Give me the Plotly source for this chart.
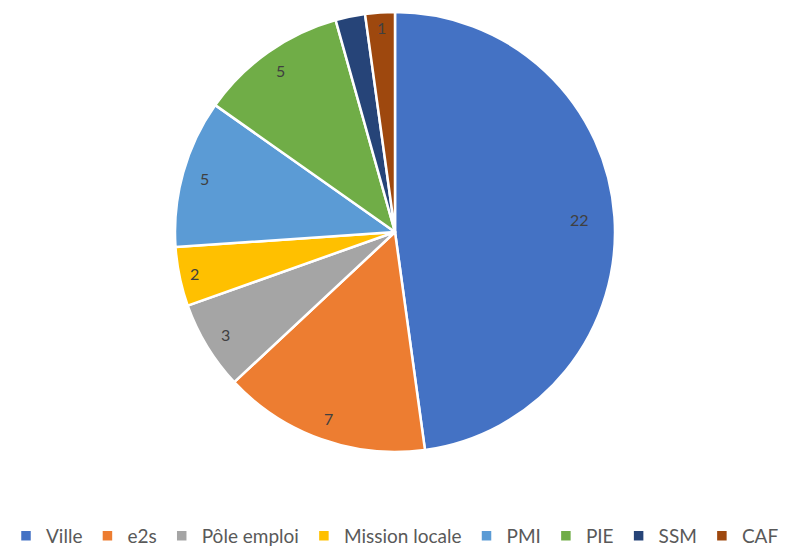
import math
import plotly.graph_objects as go

labels = ["Ville", "e2s", "Pôle emploi", "Mission locale", "PMI", "PIE", "SSM", "CAF"]
values = [22, 7, 3, 2, 5, 5, 1, 1]
colors = ["#4472C4", "#ED7D31", "#A5A5A5", "#FFC000", "#5B9BD5", "#70AD47", "#264478", "#9E480E"]
# data labels shown in the reference (SSM's label is hidden there)
show_label = [True, True, True, True, True, True, False, True]

OFF = 8  # page body margin
W, H = 794 - OFF, 548 - OFF
cx, cy, R = 395 - OFF, 232 - OFF, 220
x0, x1 = (cx - R) / W, (cx + R) / W
y0, y1 = 1 - (cy + R) / H, 1 - (cy - R) / H

fig = go.Figure(go.Pie(
    labels=labels, values=values, sort=False, direction="clockwise", rotation=0,
    marker=dict(colors=colors, line=dict(color="white", width=2.5)),
    textinfo="none", hoverinfo="label+value",
    domain=dict(x=[x0, x1], y=[y0, y1]),
))

total = sum(values)
cum = 0
annotations = []
for lab, v, show in zip(labels, values, show_label):
    mid = (cum + v / 2) / total * 2 * math.pi
    cum += v
    if not show:
        continue
    share = v / total
    frac = 0.84 if share > 0.3 else (0.93 if share < 0.05 else 0.9)
    px = cx + frac * R * math.sin(mid)
    py = cy - frac * R * math.cos(mid)
    annotations.append(dict(
        x=px / W, y=1 - py / H, xref="paper", yref="paper", text=str(v),
        showarrow=False, font=dict(family="Lato", size=16, color="#404040"),
        xanchor="center", yanchor="middle",
    ))

fig.update_layout(
    width=W, height=H,
    margin=dict(l=0, r=0, t=0, b=0, autoexpand=False),
    paper_bgcolor="white", plot_bgcolor="white",
    annotations=annotations,
    showlegend=True,
    legend=dict(orientation="h", x=0.5 - 6 / W, xanchor="center", y=1 - (536 - OFF) / H, yanchor="middle",
                font=dict(family="Lato", size=19, color="#595959"),
                itemwidth=30, traceorder="normal"),
)
fig.write_html("out.html")
